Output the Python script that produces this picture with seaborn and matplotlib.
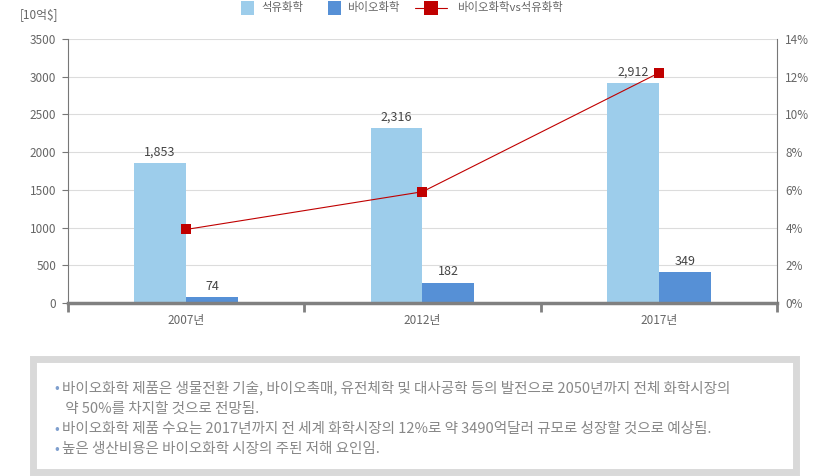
import matplotlib
matplotlib.use("Agg")
import matplotlib.pyplot as plt
import seaborn as sns
import pandas as pd
from matplotlib.patches import Rectangle
from matplotlib.lines import Line2D

# data
years = ["2007년", "2012년", "2017년"]
petro = [1853, 2316, 2912]
bio = [74, 265, 405]          # bar heights as drawn
bio_labels = [74, 182, 349]   # labels as printed
ratio = [3.9, 5.9, 12.2]      # 바이오화학 vs 석유화학 (%)
left_ticks = [0, 500, 1000, 1500, 2000, 2500, 3000, 3500]
right_ticks = [0, 2, 4, 6, 8, 10, 12, 14]
legend_names = ["석유화학", "바이오화학", "바이오화학vs석유화학"]

notes = [
    ("•", "바이오화학 제품은 생물전환 기술, 바이오촉매, 유전체학 및 대사공학 등의 발전으로 2050년까지 전체 화학시장의"),
    ("", " 약 50%를 차지할 것으로 전망됨."),
    ("•", "바이오화학 제품 수요는 2017년까지 전 세계 화학시장의 12%로 약 3490억달러 규모로 성장할 것으로 예상됨."),
    ("•", "높은 생산비용은 바이오화학 시장의 주된 저해 요인임."),
]

C_PETRO = "#9dcdeb"
C_BIO = "#5690d6"
C_LINE = "#c00000"
GRAY = "#777777"
TXT = "#666666"

sns.set_style("white")
plt.rcParams["font.family"] = ["Noto Sans CJK KR", "DejaVu Sans"]

df = pd.DataFrame({
    "year": years * 2,
    "value": petro + bio,
    "series": ["석유화학"] * 3 + ["바이오화학"] * 3,
})

W, H = 828, 476
fig = plt.figure(figsize=(W / 100, H / 100), dpi=100)
ax = fig.add_axes([68 / W, 1 - 303 / H, 709 / W, 264 / H])

sns.barplot(data=df, x="year", y="value", hue="series", palette=[C_PETRO, C_BIO],
            width=0.44, dodge=True, ax=ax, legend=False, saturation=1, linewidth=0)
ax.set_xlim(-0.5, 2.5)
ax.set_ylim(0, 3500)
ax.set_yticks(left_ticks)
ax.set_xlabel("")
ax.set_ylabel("")
ax.grid(axis="y", color="#dcdcdc", linewidth=0.8)
ax.set_axisbelow(True)
ax.spines["top"].set_visible(False)
ax.spines["right"].set_visible(False)
ax.spines["left"].set_color(GRAY)
ax.spines["left"].set_linewidth(0.8)
ax.spines["bottom"].set_color("#808080")
ax.spines["bottom"].set_linewidth(2.5)
ax.tick_params(axis="y", length=4.5, color=GRAY, labelcolor=TXT, labelsize=8.5, pad=4, left=True)
ax.tick_params(axis="x", length=0, labelcolor=TXT, labelsize=8.5, pad=8)

# category boundary ticks on the x axis
for b in [-0.5, 0.5, 1.5, 2.5]:
    ax.plot([b, b], [0, -0.035], transform=ax.get_xaxis_transform(), color="#808080",
            linewidth=2, clip_on=False, solid_capstyle="butt")

# value labels
for i, v in enumerate(petro):
    ax.text(i - 0.11, v + 60, f"{v:,}", ha="center", va="bottom", fontsize=9, color="#444444")
for i, (h, v) in enumerate(zip(bio, bio_labels)):
    ax.text(i + 0.11, h + 60, f"{v:,}", ha="center", va="bottom", fontsize=9, color="#444444")

ax2 = ax.twinx()
sns.lineplot(x=[0, 1, 2], y=ratio, ax=ax2, color=C_LINE, linewidth=0.8,
             marker="s", markersize=6.5, markeredgewidth=0, legend=False)
ax2.set_ylim(0, 14)
ax2.set_yticks(right_ticks)
ax2.set_yticklabels([f"{t}%" for t in right_ticks])
ax2.tick_params(axis="y", length=0, labelcolor=TXT, labelsize=8.5, pad=6)
for s in ["top", "left", "bottom"]:
    ax2.spines[s].set_visible(False)
ax2.spines["right"].set_color(GRAY)
ax2.spines["right"].set_linewidth(0.8)
ax2.set_xlim(-0.5, 2.5)

fig.text(20 / W, 1 - 15 / H, "[10억$]", fontsize=8.5, color=TXT, va="center")

# legend drawn in figure pixels
ly = 1 - 8 / H
fig.patches.append(Rectangle((241 / W, 1 - 14.5 / H), 13.5 / W, 13.5 / H, transform=fig.transFigure,
                             facecolor=C_PETRO, edgecolor="none"))
fig.text(261 / W, ly, legend_names[0], fontsize=8.2, color=TXT, va="center")
fig.patches.append(Rectangle((328 / W, 1 - 14.5 / H), 13.5 / W, 13.5 / H, transform=fig.transFigure,
                             facecolor=C_BIO, edgecolor="none"))
fig.text(347 / W, ly, legend_names[1], fontsize=8.2, color=TXT, va="center")
fig.lines.append(Line2D([415 / W, 447 / W], [ly, ly], transform=fig.transFigure,
                        color=C_LINE, linewidth=0.8))
fig.lines.append(Line2D([431 / W], [ly], transform=fig.transFigure, color=C_LINE,
                        marker="s", markersize=9.5, markeredgewidth=0, linestyle="none"))
fig.text(457 / W, ly, legend_names[2], fontsize=8.2, color=TXT, va="center")

# note box
fig.patches.append(Rectangle((33.5 / W, 1 - 472 / H), 763 / W, 113.5 / H,
                             transform=fig.transFigure, facecolor="white",
                             edgecolor="#d9d9d9", linewidth=5))
ys = [388, 409, 429, 449]
for (bullet, line), y in zip(notes, ys):
    if bullet:
        fig.text(54 / W, 1 - y / H, bullet, fontsize=10, color="#7f9fce", va="center")
    fig.text(62 / W, 1 - y / H, line, fontsize=10.5, color="#888888", va="center")

fig.savefig("out.png", dpi=100)
